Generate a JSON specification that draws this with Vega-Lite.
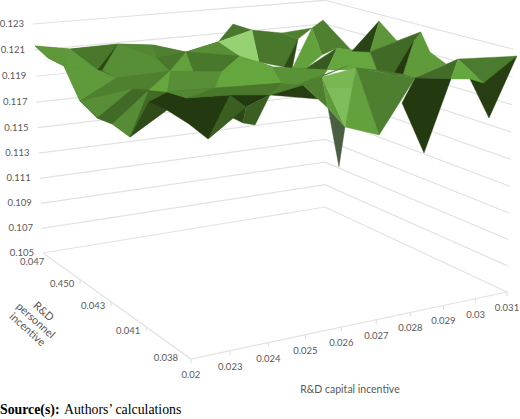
{"$schema":"https://vega.github.io/schema/vega-lite/v6.json","width":520,"height":419,"padding":0,"autosize":"none","background":"white","view":{"stroke":null},
"datasets":{
"verts":[
{"id":"a","capital":0.03,"personnel":4,"value":0.12132},{"id":"b","capital":1.006,"personnel":4,"value":0.12084},{"id":"c","capital":1.415,"personnel":3,"value":0.12215},{"id":"d","capital":2.4,"personnel":3,"value":0.12184},{"id":"e","capital":3.345,"personnel":3,"value":0.12107},{"id":"f","capital":4.304,"personnel":3,"value":0.1216},{"id":"g","capital":5.947,"personnel":4,"value":0.12167},{"id":"g2","capital":6.555,"personnel":4,"value":0.12104},{"id":"g3","capital":5.539,"personnel":3,"value":0.11973},{"id":"g4","capital":7.547,"personnel":4,"value":0.12056},{"id":"g5","capital":8.084,"personnel":4,"value":0.11993},{"id":"A1","capital":8.941,"personnel":4,"value":0.12134},{"id":"A2","capital":8.562,"personnel":4,"value":0.12075},{"id":"h","capital":0.83,"personnel":3,"value":0.12037},{"id":"h2","capital":0.966,"personnel":3,"value":0.12033},{"id":"i","capital":0.816,"personnel":4,"value":0.11957},{"id":"i0","capital":0.377,"personnel":4,"value":0.12031},{"id":"j","capital":0.317,"personnel":3,"value":0.11821},{"id":"k","capital":0.771,"personnel":3,"value":0.1168},{"id":"l","capital":0.216,"personnel":2,"value":0.11783},{"id":"m","capital":0.673,"personnel":2,"value":0.11675},{"id":"n","capital":1.332,"personnel":3,"value":0.11964},{"id":"o","capital":0.775,"personnel":2,"value":0.12015},{"id":"p","capital":1.216,"personnel":2,"value":0.11995},{"id":"q","capital":1.183,"personnel":2,"value":0.11911},{"id":"r","capital":1.703,"personnel":2,"value":0.11967},{"id":"s","capital":1.795,"personnel":2,"value":0.12115},{"id":"s2","capital":2.5,"personnel":3,"value":0.12083},{"id":"u1","capital":2.426,"personnel":2,"value":0.12098},{"id":"x","capital":4.928,"personnel":3,"value":0.12036},{"id":"y","capital":3.237,"personnel":2,"value":0.12076},{"id":"z","capital":3.033,"personnel":2,"value":0.11957},{"id":"bb","capital":1.14,"personnel":1,"value":0.12062},{"id":"r2","capital":2.275,"personnel":1,"value":0.12049},{"id":"r3","capital":3.362,"personnel":1,"value":0.12017},{"id":"r4","capital":4.979,"personnel":2,"value":0.11939},{"id":"t3","capital":4.712,"personnel":2,"value":0.12066},{"id":"ff","capital":0.617,"personnel":1,"value":0.11996},{"id":"dd","capital":1.671,"personnel":1,"value":0.11763},{"id":"ee","capital":1.178,"personnel":1,"value":0.11883},{"id":"gg1","capital":2.345,"personnel":1,"value":0.11887},{"id":"gg2","capital":2.615,"personnel":1,"value":0.11843},{"id":"gg3","capital":2.942,"personnel":1,"value":0.11819},{"id":"dk","capital":2.702,"personnel":1,"value":0.11952},{"id":"A3","capital":5.488,"personnel":2,"value":0.12038},{"id":"B1","capital":7.97,"personnel":2,"value":0.12335},{"id":"B2","capital":7.119,"personnel":2,"value":0.12125},{"id":"B3","capital":7.689,"personnel":2,"value":0.12103},{"id":"B4","capital":8.555,"personnel":2,"value":0.12167},{"id":"C1","capital":8.71,"personnel":1.6,"value":0.12272},{"id":"C2","capital":7.914,"personnel":2,"value":0.11957},{"id":"C3","capital":8.434,"personnel":2,"value":0.11904},{"id":"C4","capital":8.759,"personnel":2,"value":0.11903},{"id":"C5","capital":7.538,"personnel":1,"value":0.12285},{"id":"C6","capital":8.065,"personnel":1,"value":0.12198},{"id":"C7","capital":8.578,"personnel":1,"value":0.12096},{"id":"D1","capital":8.959,"personnel":1,"value":0.12123},{"id":"D2","capital":7.61,"personnel":1,"value":0.12018},{"id":"D3","capital":8.742,"personnel":1,"value":0.11979},{"id":"D4","capital":7.919,"personnel":1,"value":0.11444},{"id":"D5","capital":7.214,"personnel":1,"value":0.11843},{"id":"E1","capital":8.1,"personnel":0,"value":0.12083},{"id":"E2","capital":7.685,"personnel":0,"value":0.12123},{"id":"E3","capital":9.12,"personnel":0,"value":0.12248},{"id":"E4","capital":8.294,"personnel":0,"value":0.11825},{"id":"F","capital":5.821,"personnel":1,"value":0.1214},{"id":"F2","capital":5.498,"personnel":1,"value":0.1172},{"id":"F3","capital":5.045,"personnel":0,"value":0.11812},{"id":"F4","capital":4.973,"personnel":1,"value":0.12019},{"id":"F5","capital":4.828,"personnel":1,"value":0.12102},{"id":"F7","capital":5.702,"personnel":1,"value":0.11998},{"id":"S1","capital":5.322,"personnel":1,"value":0.11433},{"id":"S2","capital":5.001,"personnel":1,"value":0.11874},{"id":"I","capital":4.712,"personnel":1,"value":0.11948},{"id":"I2","capital":4.284,"personnel":1,"value":0.1206},{"id":"H1","capital":5.554,"personnel":1,"value":0.12161},{"id":"G1","capital":6.65,"personnel":2,"value":0.1216},{"id":"G2","capital":6.342,"personnel":2,"value":0.12},{"id":"G3","capital":5.669,"personnel":2,"value":0.12026},{"id":"N","capital":6.187,"personnel":2,"value":0.12118},{"id":"sl","capital":5.279,"personnel":2,"value":0.12036},{"id":"sl0","capital":5.038,"personnel":2,"value":0.12057}
],
"facets":[
{"f":0,"shade":0.42,"ids":["a","b","c","d","e","f","x","u1","r","bb","ff","m","l","k","j","i","i0"]},{"f":0.5,"shade":0.42,"ids":["e","f","x","g3","t3","r4","r3","r2","bb","r"]},
{"f":1,"shade":0.42,"ids":["g","g2","f"]},{"f":2,"shade":0.42,"ids":["g2","g4","g5","sl0","g3"]},{"f":3,"shade":1,"ids":["f","g2","g3","x"]},{"f":4,"shade":0.5,"ids":["g4","A2","g5"]},{"f":5,"shade":0.5,"ids":["A1","B2","G1","N","A2"]},{"f":7,"shade":0.72,"ids":["A2","N","G3","sl"]},{"f":6,"shade":0.1,"ids":["g5","sl0","sl"]},{"f":8,"shade":0.2,"ids":["G1","G3","G2"]},{"f":9,"shade":0.75,"ids":["G1","B3","C2","G2"]},{"f":10,"shade":0.08,"ids":["B1","B2","B3"]},{"f":11,"shade":0.65,"ids":["B1","B3","B4"]},{"f":12,"shade":0.3,"ids":["B3","C1","C3","C2"]},{"f":13,"shade":0.42,"ids":["B4","C1","B3"]},{"f":14,"shade":0.68,"ids":["C1","C6","C7","D2","C4","C5"]},{"f":15,"shade":0.03,"ids":["C5","C3","C4"]},{"f":16,"shade":0.32,"ids":["D2","D1","D3"]},{"f":17,"shade":0.03,"ids":["D5","D2","D3","D4"]},{"f":19,"shade":0.05,"ids":["E2","E3","E4"]},{"f":18,"shade":0.45,"ids":["D1","E3","E1"]},{"f":20,"shade":0.75,"ids":["D1","E1","E2","D3"]},
{"f":21,"shade":0.66,"ids":["a","b","i","i0"]},{"f":22,"shade":0.42,"ids":["b","c","h"]},{"f":23,"shade":0.1,"ids":["c","h","h2"]},{"f":24,"shade":0.68,"ids":["b","h","n","i"]},{"f":25,"shade":0.68,"ids":["i","n","j"]},{"f":26,"shade":0.5,"ids":["n","o","j"]},{"f":27,"shade":0.6,"ids":["j","o","k"]},{"f":28,"shade":0.3,"ids":["k","o","p","l"]},{"f":29,"shade":0.58,"ids":["l","p","m"]},{"f":30,"shade":0.55,"ids":["c","d","s2"]},{"f":31,"shade":0.6,"ids":["c","s2","s","n","h2"]},{"f":32,"shade":0.5,"ids":["d","e","s2"]},{"f":33,"shade":0.42,"ids":["s2","e","s"]},{"f":34,"shade":0.5,"ids":["n","s","r","o"]},{"f":35,"shade":0.3,"ids":["o","r","p"]},{"f":36,"shade":0.6,"ids":["e","f","x"]},{"f":37,"shade":0.42,"ids":["e","x","u1"]},{"f":38,"shade":0.72,"ids":["s","e","u1"]},
{"f":39,"shade":0.03,"ids":["q","r","bb","r2","r3","dk","gg1","dd","ee","ff"]},{"f":40,"shade":0.12,"ids":["m","q","ff"]},{"f":40.5,"shade":0.3,"ids":["m","p","q"]},{"f":41,"shade":0.22,"ids":["dd","r2","dk"]},{"f":41.5,"shade":0.1,"ids":["gg1","gg2","dk"]},{"f":42,"shade":0.22,"ids":["dk","r3","gg3","gg2"]},{"f":43,"shade":0.3,"ids":["p","q","r"]},{"f":44,"shade":0.6,"ids":["s","u1","y","z","r"]},{"f":45,"shade":0.75,"ids":["s","p","r"]},{"f":46,"shade":0.75,"ids":["x","g3","t3","r4","z","y"]},{"f":47,"shade":0.42,"ids":["u1","x","y"]},{"f":48,"shade":0.42,"ids":["r","z","r4","r3","r2","bb"]},{"f":49,"shade":0.55,"ids":["r","z","bb"]},{"f":49.5,"shade":0.5,"ids":["r3","r4","t3","G2","F5","I2"]},{"f":50,"shade":0.62,"ids":["t3","G2","F5","I2","r4"]},{"f":51,"shade":0.05,"ids":["r3","I2","I"]},{"f":52,"shade":0.5,"ids":["I2","F5","S2","I"]},
{"f":53,"shade":-1,"ids":["S2","S1","F2"]},{"f":54,"shade":0.68,"ids":["F5","F4","F2","S2"]},{"f":55,"shade":0.85,"ids":["F5","F","F7","F4"]},{"f":56,"shade":0.88,"ids":["F4","F7","F2"]},{"f":57,"shade":0.72,"ids":["F","F3","F2","F7"]},{"f":58,"shade":0.42,"ids":["C2","C4","D2","F"]},{"f":59,"shade":0.48,"ids":["F","D2","F3"]},{"f":60,"shade":0.5,"ids":["r3","H1","I2"]}
],
"lines":[
{"line":"w105","n":0,"capital":0,"personnel":4,"value":0.105},{"line":"w105","n":1,"capital":9,"personnel":4,"value":0.105},{"line":"w105","n":2,"capital":9,"personnel":0,"value":0.105},
{"line":"w107","n":0,"capital":0,"personnel":4,"value":0.107},{"line":"w107","n":1,"capital":9,"personnel":4,"value":0.107},{"line":"w107","n":2,"capital":9,"personnel":0,"value":0.107},
{"line":"w109","n":0,"capital":0,"personnel":4,"value":0.109},{"line":"w109","n":1,"capital":9,"personnel":4,"value":0.109},{"line":"w109","n":2,"capital":9,"personnel":0,"value":0.109},
{"line":"w111","n":0,"capital":0,"personnel":4,"value":0.111},{"line":"w111","n":1,"capital":9,"personnel":4,"value":0.111},{"line":"w111","n":2,"capital":9,"personnel":0,"value":0.111},
{"line":"w113","n":0,"capital":0,"personnel":4,"value":0.113},{"line":"w113","n":1,"capital":9,"personnel":4,"value":0.113},{"line":"w113","n":2,"capital":9,"personnel":0,"value":0.113},
{"line":"w115","n":0,"capital":0,"personnel":4,"value":0.115},{"line":"w115","n":1,"capital":9,"personnel":4,"value":0.115},{"line":"w115","n":2,"capital":9,"personnel":0,"value":0.115},
{"line":"w117","n":0,"capital":0,"personnel":4,"value":0.117},{"line":"w117","n":1,"capital":9,"personnel":4,"value":0.117},{"line":"w117","n":2,"capital":9,"personnel":0,"value":0.117},
{"line":"w119","n":0,"capital":0,"personnel":4,"value":0.119},{"line":"w119","n":1,"capital":9,"personnel":4,"value":0.119},{"line":"w119","n":2,"capital":9,"personnel":0,"value":0.119},
{"line":"w121","n":0,"capital":0,"personnel":4,"value":0.121},{"line":"w121","n":1,"capital":9,"personnel":4,"value":0.121},{"line":"w121","n":2,"capital":9,"personnel":0,"value":0.121},
{"line":"w123","n":0,"capital":0,"personnel":4,"value":0.123},{"line":"w123","n":1,"capital":9,"personnel":4,"value":0.123},{"line":"w123","n":2,"capital":9,"personnel":0,"value":0.123},
{"line":"floor","n":0,"capital":0,"personnel":4,"value":0.105},{"line":"floor","n":1,"capital":0,"personnel":0,"value":0.105},{"line":"floor","n":2,"capital":9,"personnel":0,"value":0.105},
{"line":"t0","n":0,"capital":0,"personnel":0,"value":0.105},{"line":"t0","n":1,"capital":0,"personnel":0,"value":0.1047},
{"line":"t1","n":0,"capital":1,"personnel":0,"value":0.105},{"line":"t1","n":1,"capital":1,"personnel":0,"value":0.1047},
{"line":"t2","n":0,"capital":2,"personnel":0,"value":0.105},{"line":"t2","n":1,"capital":2,"personnel":0,"value":0.1047},
{"line":"t3","n":0,"capital":3,"personnel":0,"value":0.105},{"line":"t3","n":1,"capital":3,"personnel":0,"value":0.1047},
{"line":"t4","n":0,"capital":4,"personnel":0,"value":0.105},{"line":"t4","n":1,"capital":4,"personnel":0,"value":0.1047},
{"line":"t5","n":0,"capital":5,"personnel":0,"value":0.105},{"line":"t5","n":1,"capital":5,"personnel":0,"value":0.1047},
{"line":"t6","n":0,"capital":6,"personnel":0,"value":0.105},{"line":"t6","n":1,"capital":6,"personnel":0,"value":0.1047},
{"line":"t7","n":0,"capital":7,"personnel":0,"value":0.105},{"line":"t7","n":1,"capital":7,"personnel":0,"value":0.1047},
{"line":"t8","n":0,"capital":8,"personnel":0,"value":0.105},{"line":"t8","n":1,"capital":8,"personnel":0,"value":0.1047},
{"line":"t9","n":0,"capital":9,"personnel":0,"value":0.105},{"line":"t9","n":1,"capital":9,"personnel":0,"value":0.1047},
{"line":"p1","n":0,"capital":0,"personnel":1.06,"value":0.105},{"line":"p1","n":1,"capital":0,"personnel":1.06,"value":0.1047},
{"line":"p2","n":0,"capital":0,"personnel":1.97,"value":0.105},{"line":"p2","n":1,"capital":0,"personnel":1.97,"value":0.1047},
{"line":"p3","n":0,"capital":0,"personnel":2.85,"value":0.105},{"line":"p3","n":1,"capital":0,"personnel":2.85,"value":0.1047}
]},
"layer":[
{"data":{"name":"lines"},
"transform":[{"calculate":"datum.capital/9","as":"u"},{"calculate":"datum.personnel/4","as":"v"},{"calculate":"(datum.value-0.105)/0.018","as":"w"},{"calculate":"1+0.13475*datum.u+0.20753*datum.v-0.04*datum.w","as":"d"},{"calculate":"(191+384.32*datum.u-139.08*datum.v-13.39*datum.w)/datum.d","as":"px"},{"calculate":"(359-27.65*datum.u-53.5*datum.v-277.48*datum.w)/datum.d","as":"py"}],
"mark":{"type":"line","color":"#e2e2e2","strokeWidth":1.2,"clip":false},
"encoding":{"x":{"field":"px","type":"quantitative","scale":{"domain":[0,520],"range":[0,520]},"axis":null},"y":{"field":"py","type":"quantitative","scale":{"domain":[0,419],"range":[0,419]},"axis":null},"detail":{"field":"line"},"order":{"field":"n"}}},
{"data":{"name":"facets"},
"transform":[{"flatten":["ids"],"as":["id"]},{"window":[{"op":"row_number","as":"k"}]},{"lookup":"id","from":{"data":{"name":"verts"},"key":"id","fields":["capital","personnel","value"]}},{"calculate":"datum.capital/9","as":"u"},{"calculate":"datum.personnel/4","as":"v"},{"calculate":"(datum.value-0.105)/0.018","as":"w"},{"calculate":"1+0.13475*datum.u+0.20753*datum.v-0.04*datum.w","as":"d"},{"calculate":"(191+384.32*datum.u-139.08*datum.v-13.39*datum.w)/datum.d","as":"px"},{"calculate":"(359-27.65*datum.u-53.5*datum.v-277.48*datum.w)/datum.d","as":"py"}],
"mark":{"type":"line","interpolate":"linear-closed","strokeWidth":0.4,"clip":false},
"encoding":{"x":{"field":"px","type":"quantitative","scale":{"domain":[0,520],"range":[0,520]},"axis":null},"y":{"field":"py","type":"quantitative","scale":{"domain":[0,419],"range":[0,419]},"axis":null},"detail":{"field":"f"},"order":{"field":"k"},
"fill":{"field":"shade","type":"quantitative","legend":null,"scale":{"domain":[-1,-0.5,0,0.25,0.5,0.75,1],"range":["#4a5f42","#4a5f42","#20350e","#3d6524","#4f8030","#66a63f","#97d272"]}},
"stroke":{"field":"shade","type":"quantitative","legend":null,"scale":{"domain":[-1,-0.5,0,0.25,0.5,0.75,1],"range":["#4a5f42","#4a5f42","#20350e","#3d6524","#4f8030","#66a63f","#97d272"]}}}},
{"data":{"values":[{"label":"0.105","value":0.105},{"label":"0.107","value":0.107},{"label":"0.109","value":0.109},{"label":"0.111","value":0.111},{"label":"0.113","value":0.113},{"label":"0.115","value":0.115},{"label":"0.117","value":0.117},{"label":"0.119","value":0.119},{"label":"0.121","value":0.121},{"label":"0.123","value":0.123}]},
"transform":[{"calculate":"(datum.value-0.105)/0.018","as":"w"},{"calculate":"1.20753-0.04*datum.w","as":"d"},{"calculate":"(51.92-13.39*datum.w)/datum.d","as":"px"},{"calculate":"(305.5-277.48*datum.w)/datum.d","as":"py"}],
"mark":{"type":"text","align":"right","baseline":"middle","dx":-9,"font":"Lato","fontSize":9.5,"color":"#595959"},
"encoding":{"x":{"field":"px","type":"quantitative","scale":{"domain":[0,520],"range":[0,520]},"axis":null},"y":{"field":"py","type":"quantitative","scale":{"domain":[0,419],"range":[0,419]},"axis":null},"text":{"field":"label"}}},
{"data":{"values":[{"label":"0.047","personnel":3.77},{"label":"0.450","personnel":2.85},{"label":"0.043","personnel":1.97},{"label":"0.041","personnel":1.06},{"label":"0.038","personnel":0.16}]},
"transform":[{"calculate":"datum.personnel/4","as":"v"},{"calculate":"1+0.20753*datum.v","as":"d"},{"calculate":"(191-139.08*datum.v)/datum.d","as":"px"},{"calculate":"(359-53.5*datum.v)/datum.d","as":"py"}],
"mark":{"type":"text","align":"center","baseline":"middle","dx":-18,"dy":4,"font":"Lato","fontSize":9.5,"color":"#595959"},
"encoding":{"x":{"field":"px","type":"quantitative","scale":{"domain":[0,520],"range":[0,520]},"axis":null},"y":{"field":"py","type":"quantitative","scale":{"domain":[0,419],"range":[0,419]},"axis":null},"text":{"field":"label"}}},
{"data":{"values":[{"label":"0.02","capital":0},{"label":"0.023","capital":1},{"label":"0.024","capital":2},{"label":"0.025","capital":3},{"label":"0.026","capital":4},{"label":"0.027","capital":5},{"label":"0.028","capital":6},{"label":"0.029","capital":7},{"label":"0.03","capital":8},{"label":"0.031","capital":9}]},
"transform":[{"calculate":"datum.capital/9","as":"u"},{"calculate":"1+0.13475*datum.u","as":"d"},{"calculate":"(191+384.32*datum.u)/datum.d","as":"px"},{"calculate":"(359-27.65*datum.u)/datum.d","as":"py"}],
"mark":{"type":"text","align":"center","baseline":"middle","dy":16,"font":"Lato","fontSize":9.5,"color":"#595959"},
"encoding":{"x":{"field":"px","type":"quantitative","scale":{"domain":[0,520],"range":[0,520]},"axis":null},"y":{"field":"py","type":"quantitative","scale":{"domain":[0,419],"range":[0,419]},"axis":null},"text":{"field":"label"}}},
{"data":{"values":[{"label":"R&D capital incentive","capital":4.5}]},
"transform":[{"calculate":"datum.capital/9","as":"u"},{"calculate":"1+0.13475*datum.u","as":"d"},{"calculate":"(191+384.32*datum.u)/datum.d","as":"px"},{"calculate":"(359-27.65*datum.u)/datum.d","as":"py"}],
"mark":{"type":"text","align":"center","baseline":"middle","dx":-9,"dy":66.6,"font":"Lato","fontSize":10.5,"color":"#595959"},
"encoding":{"x":{"field":"px","type":"quantitative","scale":{"domain":[0,520],"range":[0,520]},"axis":null},"y":{"field":"py","type":"quantitative","scale":{"domain":[0,419],"range":[0,419]},"axis":null},"text":{"field":"label"}}},
{"data":{"values":[{"label":"R&D\npersonnel\nincentive","capital":-1.72,"personnel":2.04}]},
"transform":[{"calculate":"datum.capital/9","as":"u"},{"calculate":"datum.personnel/4","as":"v"},{"calculate":"1+0.13475*datum.u+0.20753*datum.v","as":"d"},{"calculate":"(191+384.32*datum.u-139.08*datum.v)/datum.d","as":"px"},{"calculate":"(359-27.65*datum.u-53.5*datum.v)/datum.d","as":"py"}],
"mark":{"type":"text","align":"center","baseline":"middle","angle":42,"lineBreak":"\n","lineHeight":12,"font":"Lato","fontSize":11,"color":"#595959"},
"encoding":{"x":{"field":"px","type":"quantitative","scale":{"domain":[0,520],"range":[0,520]},"axis":null},"y":{"field":"py","type":"quantitative","scale":{"domain":[0,419],"range":[0,419]},"axis":null},"text":{"field":"label"}}},
{"data":{"values":[{"label":"Source(s):"}]},
"mark":{"type":"text","align":"left","baseline":"middle","font":"Liberation Serif","fontWeight":"bold","fontSize":13.8,"color":"#000000"},
"encoding":{"x":{"value":0},"y":{"value":410},"text":{"field":"label"}}},
{"data":{"values":[{"label":"Authors’ calculations"}]},
"mark":{"type":"text","align":"left","baseline":"middle","font":"Liberation Serif","fontSize":13.8,"color":"#000000"},
"encoding":{"x":{"value":64},"y":{"value":410},"text":{"field":"label"}}}
]}
